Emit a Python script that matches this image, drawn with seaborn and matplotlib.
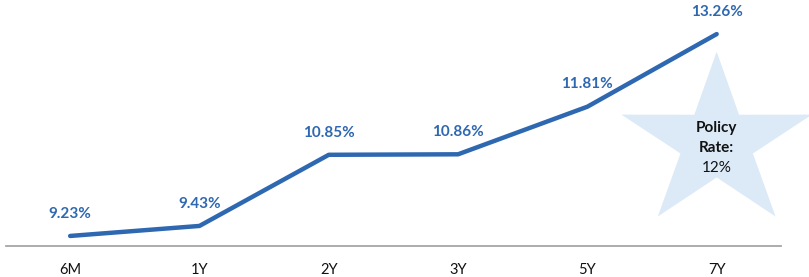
import matplotlib
matplotlib.use("Agg")
import matplotlib.pyplot as plt
import numpy as np
import pandas as pd
import seaborn as sns
from matplotlib.patches import Polygon

# data
tenors = ["6M", "1Y", "2Y", "3Y", "5Y", "7Y"]
yields = [9.23, 9.43, 10.85, 10.86, 11.81, 13.26]
labels = ["9.23%", "9.43%", "10.85%", "10.86%", "11.81%", "13.26%"]
policy_rate = "12%"

LINE_BLUE = "#2E68B1"
STAR_BLUE = "#DCEAF8"

sns.set_theme(style="white")
plt.rcParams["font.family"] = ["Lato", "DejaVu Sans"]

df = pd.DataFrame({"tenor": tenors, "yield": yields})

fig = plt.figure(figsize=(8.09, 2.77), dpi=100)
ax = fig.add_axes([0.0068, 0.112, 0.959, 0.888])

# star behind everything (sized in data units: 1 cat ~129px, 1 pt ~50px)
cx, cy = 5, 11.09
rx_out, ry_out = 0.775, 1.82
ratio = 0.38
pts = []
for i in range(10):
    ang = np.deg2rad(90 + i * 36)
    f = 1.0 if i % 2 == 0 else ratio
    pts.append((cx + rx_out * f * np.cos(ang), cy + ry_out * f * np.sin(ang)))
ax.add_patch(Polygon(pts, closed=True, facecolor=STAR_BLUE, edgecolor="none",
                     zorder=0, clip_on=False))

sns.lineplot(data=df, x="tenor", y="yield", ax=ax, color=LINE_BLUE,
             linewidth=3.2, sort=False, zorder=3)

for i, (v, lab) in enumerate(zip(yields, labels)):
    ax.annotate(lab, (i, v), xytext=(0, 11), textcoords="offset points",
                ha="center", va="bottom", fontsize=11, fontweight="bold",
                color=LINE_BLUE)

ty = cy - 0.1
ax.text(cx, ty + 0.4, "Policy", ha="center", va="center", fontsize=11,
        fontweight="bold", color="#111111")
ax.text(cx, ty, "Rate:", ha="center", va="center", fontsize=11,
        fontweight="bold", color="#111111")
ax.text(cx, ty - 0.4, policy_rate, ha="center", va="center", fontsize=11,
        color="#111111")

ax.set_xlim(-0.5, 5.5)
ax.set_ylim(9.03, 13.94)
ax.set_xlabel("")
ax.set_ylabel("")
ax.set_yticks([])
ax.tick_params(axis="x", length=0, pad=12, labelsize=10.5, labelcolor="#111111")
for s in ["top", "right", "left"]:
    ax.spines[s].set_visible(False)
ax.spines["bottom"].set_color("#A6A6A6")
ax.spines["bottom"].set_linewidth(1.3)
ax.patch.set_alpha(0)

fig.savefig("out.png", dpi=100)
